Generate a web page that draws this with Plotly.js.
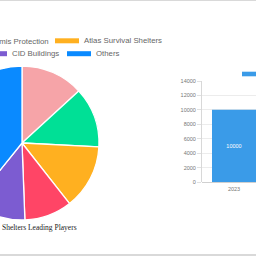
<!DOCTYPE html>
<html><head><meta charset="utf-8">
<script src="https://cdn.plot.ly/plotly-3.0.1.min.js"></script>
<style>
html,body{margin:0;padding:0;width:256px;height:256px;overflow:hidden;background:#fff;position:relative}
#chart{position:absolute;left:-300px;top:0;width:800px;height:256px}
.rule{position:absolute;left:0;width:256px;height:1px;background:#d9d9d9}
</style></head>
<body>
<div class="rule" style="top:0"></div>
<div id="chart"></div>
<div class="rule" style="top:254px;height:2px"></div>
<script>
// Pie data
const playerLabels = ["Vivos", "Artemis Protection", "Atlas Survival Shelters", "Rising S Company", "CID Buildings", "Others"];
const playerShares = [13.2, 12.6, 13.6, 10.0, 11.4, 39.2];
const playerColors = ["#f6a4a8", "#00e096", "#ffb020", "#ff4566", "#7c5cd1", "#0a8aff"];
const pieTitle = "Shelters Leading Players";
// Bar data
const years = ["2023"];
const marketValues = [10000];
const barColor = "#3a9be8";

const W = 800, H = 256, L = 300;
const px = x => (x + L) / W;
const py = y => 1 - y / H;

const legendFont = {family: "Liberation Sans, Arial, sans-serif", size: 7.8, color: "#666"};
const legendItems = [
  {name: playerLabels[1], color: playerColors[1], sx: -44, row: 41},
  {name: playerLabels[2], color: playerColors[2], sx: 55, row: 40.8},
  {name: playerLabels[4], color: playerColors[4], sx: -17, row: 53.7},
  {name: playerLabels[5], color: playerColors[5], sx: 67, row: 53.7}
];
const shapes = [], annotations = [];
legendItems.forEach(it => {
  shapes.push({type: "rect", xref: "paper", yref: "paper",
    x0: px(it.sx), x1: px(it.sx + 24), y0: py(it.row + 2.5), y1: py(it.row - 2.5),
    fillcolor: it.color, line: {width: 0}});
  annotations.push({xref: "paper", yref: "paper", x: px(it.sx + 28), y: py(it.row),
    xanchor: "left", yanchor: "middle", text: it.name, showarrow: false, font: legendFont, borderpad: 0});
});
annotations.push({xref: "paper", yref: "paper", x: px(0.5), y: py(227.3), xanchor: "left", yanchor: "middle",
  text: pieTitle, showarrow: false, borderpad: 0,
  font: {family: "Liberation Serif, Times New Roman, serif", size: 7.5, color: "#222"}});
// bar legend swatch
shapes.push({type: "rect", xref: "paper", yref: "paper", x0: px(242), x1: px(266), y0: py(76.3), y1: py(71.7),
  fillcolor: barColor, line: {width: 0}});

const data = [
  {type: "pie", labels: playerLabels, values: playerShares, sort: false, direction: "clockwise", rotation: 0,
   marker: {colors: playerColors, line: {color: "#fff", width: 1.3}}, textinfo: "none", hoverinfo: "none",
   domain: {x: [px(22 - 77), px(22 + 77)], y: [py(220), py(66)]}, showlegend: false},
  {type: "bar", x: years, y: marketValues, width: 0.6875, marker: {color: barColor},
   text: marketValues.map(String), textposition: "inside", insidetextanchor: "middle",
   textfont: {color: "#fff", size: 5.5, family: "Liberation Sans, Arial, sans-serif"},
   xaxis: "x", yaxis: "y", showlegend: false, hoverinfo: "none"}
];
const tickFont = {family: "Liberation Sans, Arial, sans-serif", size: 5.5, color: "#777"};
const layout = {
  width: W, height: H, margin: {l: 0, r: 0, t: 0, b: 0}, paper_bgcolor: "rgba(0,0,0,0)", plot_bgcolor: "rgba(0,0,0,0)",
  showlegend: false,
  xaxis: {domain: [px(202), px(266)], range: [-0.5, 0.5], type: "category", showgrid: false, zeroline: false,
    showline: false, ticks: "", tickfont: tickFont, ticklabelstandoff: 2, fixedrange: true},
  yaxis: {domain: [py(182), py(81)], range: [0, 14000], dtick: 2000, tickformat: "d", showgrid: true, gridcolor: "#ececec",
    gridwidth: 1, zeroline: true, zerolinecolor: "#d0d0d0", zerolinewidth: 1, showline: true, linecolor: "#d8d8d8",
    ticks: "outside", ticklen: 4, tickcolor: "#e0e0e0", tickfont: tickFont, fixedrange: true},
  shapes: shapes, annotations: annotations
};
Plotly.newPlot("chart", data, layout, {staticPlot: true, displayModeBar: false});
</script>
</body></html>
